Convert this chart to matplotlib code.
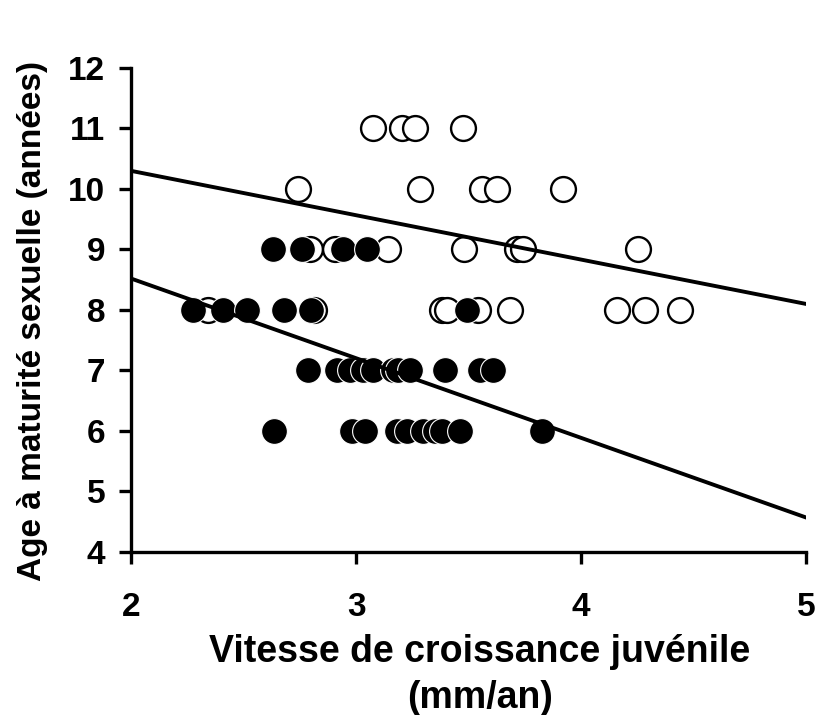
import matplotlib.pyplot as plt
import numpy as np

# Données lues sur la figure
# cercles pleins
plein_x = [2.276, 2.409, 2.516, 2.680, 2.800, 3.493,
           2.631, 2.760, 2.942, 3.049,
           2.787, 2.916, 2.973, 3.031, 3.076, 3.164, 3.187, 3.240, 3.396, 3.551, 3.609,
           2.636, 2.982, 3.040, 3.182, 3.227, 3.298, 3.351, 3.382, 3.462, 3.827]
plein_y = [8, 8, 8, 8, 8, 8,
           9, 9, 9, 9,
           7, 7, 7, 7, 7, 7, 7, 7, 7, 7, 7,
           6, 6, 6, 6, 6, 6, 6, 6, 6, 6]

# cercles vides
vide_x = [3.076, 3.204, 3.262, 3.476,
          2.742, 3.284, 3.560, 3.627, 3.920,
          2.796, 2.907, 3.142, 3.480, 3.716, 3.742, 4.253,
          2.342, 2.813, 3.382, 3.404, 3.542, 3.684, 4.160, 4.284, 4.440]
vide_y = [11, 11, 11, 11,
          10, 10, 10, 10, 10,
          9, 9, 9, 9, 9, 9, 9,
          8, 8, 8, 8, 8, 8, 8, 8, 8]

# droites de régression (extrémités)
droite_x = [2, 5]
droite_haut = [10.30, 8.10]
droite_bas = [8.52, 4.57]

x_ticks = [2, 3, 4, 5]
y_ticks = [4, 5, 6, 7, 8, 9, 10, 11, 12]

plt.rcParams['font.family'] = ['Liberation Sans', 'DejaVu Sans']
plt.rcParams['font.weight'] = 'bold'

fig = plt.figure(figsize=(8.21, 7.15), dpi=100)
ax = fig.add_axes([0.1596, 0.228, 0.8222, 0.6769])

ax.scatter(vide_x, vide_y, s=320, facecolor='white', edgecolor='black',
           linewidth=1.7, zorder=2)
ax.scatter(plein_x, plein_y, s=345, facecolor='black', edgecolor='white',
           linewidth=0.8, zorder=3)
ax.plot(droite_x, droite_haut, color='black', linewidth=2.8, zorder=4)
ax.plot(droite_x, droite_bas, color='black', linewidth=2.8, zorder=4)

ax.set_xlim(2, 5)
ax.set_ylim(4, 12)
ax.set_xticks(x_ticks)
ax.set_yticks(y_ticks)

for side in ['top', 'right']:
    ax.spines[side].set_visible(False)
for side in ['left', 'bottom']:
    ax.spines[side].set_linewidth(2.4)

ax.tick_params(axis='both', direction='out', length=8.5, width=2.4, labelsize=24)
ax.tick_params(axis='x', pad=20)
ax.tick_params(axis='y', pad=10)
for lab in ax.get_xticklabels() + ax.get_yticklabels():
    lab.set_fontweight('bold')

fig.text(33 / 821, 1 - 321 / 715, 'Age à maturité sexuelle (années)',
         rotation=90, ha='center', va='center', fontsize=24, fontweight='bold')
fig.text(480 / 821, 1 - 675 / 715, 'Vitesse de croissance juvénile\n(mm/an)',
         ha='center', va='center', fontsize=27, fontweight='bold',
         multialignment='center', linespacing=1.36)

fig.savefig('out.png', dpi=100)
